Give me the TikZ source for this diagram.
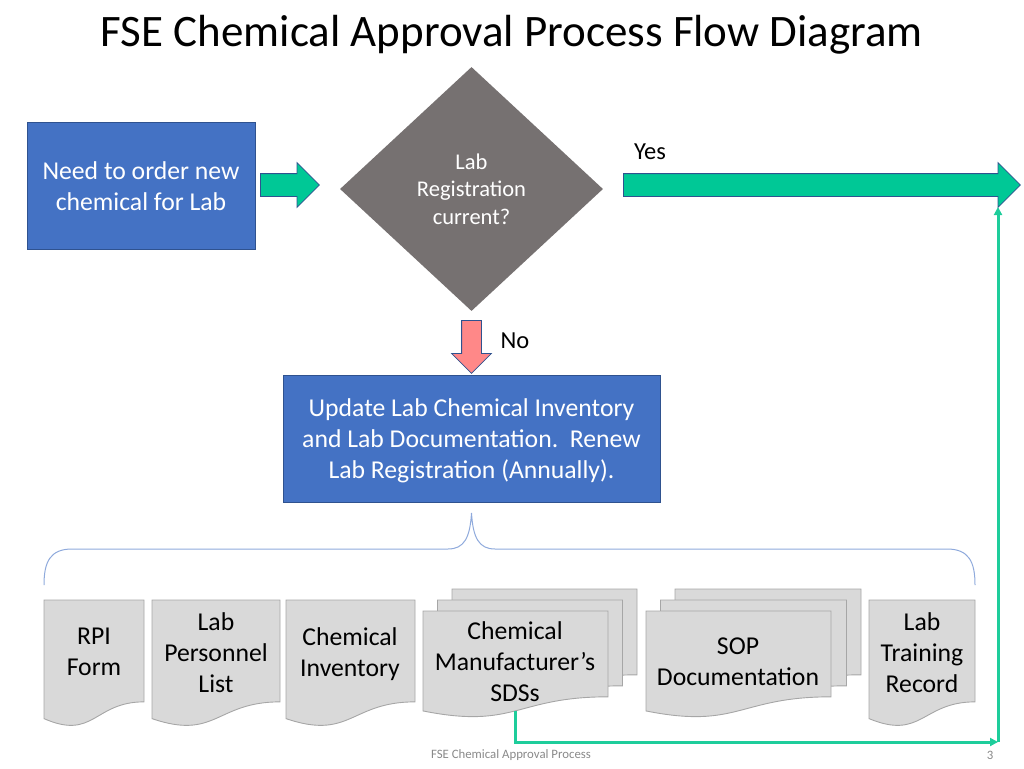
\documentclass[tikz,border=0pt]{standalone}
\usepackage{fontspec}
\setmainfont{Carlito}
\usetikzlibrary{shapes.geometric,shapes.arrows,arrows.meta}
\definecolor{boxblue}{HTML}{4472C4}
\definecolor{boxedge}{HTML}{2F528F}
\definecolor{diagray}{HTML}{767171}
\definecolor{tealfill}{RGB}{0,200,150}
\definecolor{conncol}{RGB}{30,205,155}
\definecolor{pinkfill}{RGB}{255,136,136}
\definecolor{docfill}{HTML}{D9D9D9}
\definecolor{docedge}{HTML}{A6A6A6}
\definecolor{bracecol}{HTML}{8FAADC}
\definecolor{footgray}{HTML}{898989}
\newcommand\docshape[4]{%
  \filldraw[docstyle] (#1,#2) -- ({#1+#3},#2) -- ({#1+#3},{#2+0.802*#4})
    .. controls ({#1+0.5*#3},{#2+0.802*#4}) and ({#1+0.5*#3},{#2+1.107*#4}) ..
    (#1,{#2+0.934*#4}) -- cycle;}
\newcommand\boxtop{\rule{0pt}{27.7pt}}
\newcommand\diatop{\rule{0pt}{23.3pt}}
\tikzset{
  bluebox/.style={draw=boxedge, line width=0.8pt, fill=boxblue, text=white, align=center, inner sep=0pt,
    font=\fontsize{25.7}{31}\selectfont},
  decision/.style={diamond, fill=diagray, draw=none, aspect=1.08, minimum width=263pt, minimum height=244pt,
    inner sep=0pt, text=white, align=center, font=\fontsize{22.5}{27.5}\selectfont},
  blockarrow/.style={single arrow, draw=boxedge, line width=0.8pt, inner xsep=0pt, inner ysep=11pt,
    text height=0pt, text depth=0pt, text width=0pt, single arrow head extend=11pt, single arrow tip angle=90,
    anchor=tail},
  docstyle/.style={fill=docfill, draw=docedge, line width=0.9pt},
  doctext/.style={align=center, font=\fontsize{25.7}{31}\selectfont, inner sep=0pt},
  lbl/.style={font=\fontsize{24.5}{28}\selectfont, inner sep=0pt},
  bracestyle/.style={draw=bracecol, line width=1pt},
  conn/.style={draw=conncol, line width=3pt, -{Triangle[length=8pt,width=8pt]}},
  foot/.style={font=\fontsize{12.8}{14}\selectfont, text=footgray, inner sep=0pt},
  titlestyle/.style={font=\fontsize{45}{50}\selectfont, inner sep=0pt}
}
\begin{document}
\begin{tikzpicture}[x=1pt,y=-1pt]
\useasboundingbox (0,0) rectangle (1024,768);
% title
\node[titlestyle, anchor=base] (ttl) at (512,47) {FSE Chemical Approval Process Flow Diagram};
% main nodes
\node[bluebox, minimum width=228pt, minimum height=127pt] (need) at (141,186) {\boxtop Need to order new\\chemical for Lab\strut};
\node[decision] (reg) at (471.5,189) {\diatop Lab\\Registration\\current?\strut};
\node[bluebox, minimum width=377pt, minimum height=127pt] (upd) at (471.5,438.5)
  {\boxtop Update Lab Chemical Inventory\\and Lab Documentation.\ \ Renew\\Lab Registration (Annually).\strut};
% block arrows
\node[blockarrow, fill=tealfill, minimum height=59pt] (arr1) at (260,185) {};
\node[blockarrow, fill=tealfill, minimum height=397pt] (yesarr) at (623,185) {};
\node[blockarrow, fill=pinkfill, rotate=-90, minimum height=53pt, inner ysep=9.5pt, single arrow head extend=10pt] (noarr) at (471.5,320) {};
\node[lbl] (yes) at (650,152) {Yes};
\node[lbl] (no) at (515,341) {No};
% brace
\draw[bracestyle] (44,585) .. controls (44,562) and (50,549) .. (72,549) -- (448,549)
  .. controls (464,549) and (470,538) .. (471.5,513)
  .. controls (473,538) and (479,549) .. (495,549) -- (947,549)
  .. controls (969,549) and (975,562) .. (975,585);
% documents
\docshape{44}{600}{100}{127}
\docshape{152}{600}{128}{127}
\docshape{286}{600}{129}{127}
\docshape{452}{589}{185}{107}
\docshape{437.5}{600}{185}{107}
\docshape{423}{611}{185}{107}
\docshape{675}{589}{186}{107}
\docshape{660.5}{600}{186}{107}
\docshape{646}{611}{185}{107}
\docshape{869}{600}{106}{127}
\node[doctext] (rpi) at (94,654) {\strut RPI\\Form\strut};
\node[doctext] (pers) at (216,655) {\strut Lab\\Personnel\\List\strut};
\node[doctext] (inv) at (350,655) {\strut Chemical\\Inventory\strut};
\node[doctext] (sds) at (515,664) {\strut Chemical\\Manufacturer’s\\SDSs\strut};
\node[doctext] (sop) at (738,664) {\strut SOP\\Documentation\strut};
\node[doctext] (train) at (922,655) {\strut Lab\\Training\\Record\strut};
% connector
\coordinate (sdsb) at (515,711);
\coordinate (corner) at (998,742);
\coordinate (yesin) at (998,207);
\draw[conn] (sdsb) |- (corner);
\draw[conn] (corner) -- (yesin);
% footer
\node[foot] (ft) at (511,755) {FSE Chemical Approval Process};
\node[foot] (pg) at (990,755) {3};
\end{tikzpicture}
\end{document}
